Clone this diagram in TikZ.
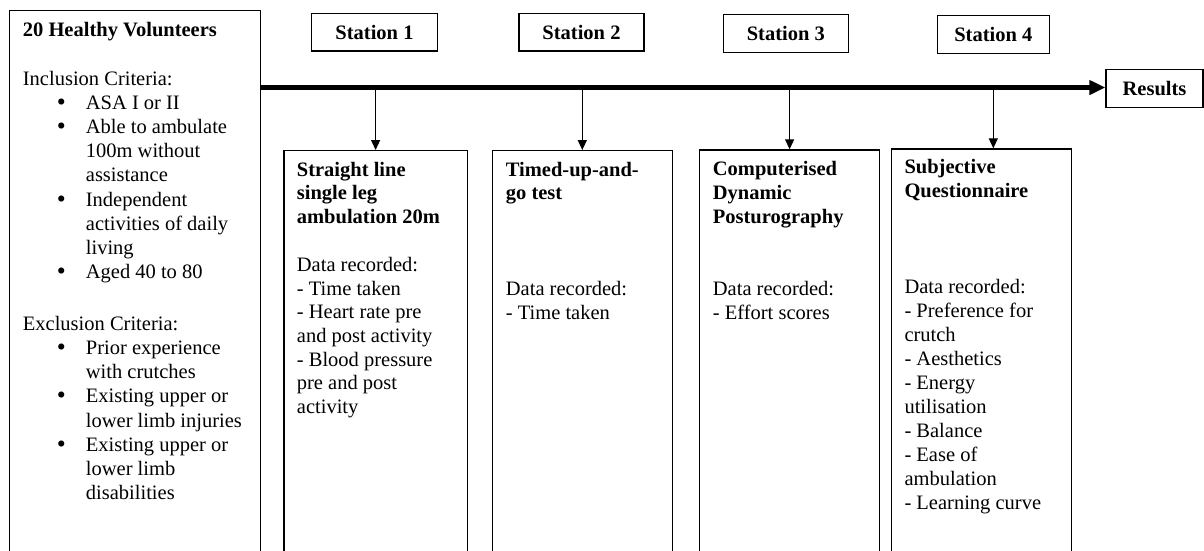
\documentclass[tikz,border=0pt]{standalone}
\usepackage{fontspec}
\setmainfont{Liberation Serif}
\usetikzlibrary{arrows.meta}
\newcommand{\bulitem}{\hspace*{34pt}\makebox[29pt][l]{\raisebox{-1pt}{\scalebox{1.25}{\textbullet}}}}
\newcommand{\bulcont}{\hspace*{63pt}}
\begin{document}
\begin{tikzpicture}[x=1pt,y=-1pt,
  box/.style={draw, line width=1.2pt, inner sep=0pt, anchor=north west, minimum height=420pt},
  stbox/.style={draw, line width=1.2pt, inner sep=0pt, font=\fontsize{20.5}{24}\selectfont\bfseries},
  txt/.style={anchor=base west, inner sep=0pt, font=\fontsize{20.5}{24}\selectfont},
  drop/.style={line width=1.3pt, -{Triangle[width=9pt,length=10pt]}},
  mainarrow/.style={line width=4.5pt, -{Triangle[width=14pt,length=16pt]}},
]
\useasboundingbox (0,0) rectangle (1204,550);
\clip (0,0) rectangle (1204,550);

% left box
\node[box, minimum width=251pt, minimum height=560pt] (vol) at (9,10) {};
\node[txt] (voltext) at (22.7,36) {\parbox[t]{235pt}{\fontsize{20.5}{24.2}\selectfont
\textbf{20 Healthy Volunteers}\\[24.8pt]
Inclusion Criteria:\\
\bulitem ASA I or II\\
\bulitem Able to ambulate\\
\bulcont 100m without\\
\bulcont assistance\\
\bulitem Independent\\
\bulcont activities of daily\\
\bulcont living\\
\bulitem Aged 40 to 80\\[27.5pt]
Exclusion Criteria:\\
\bulitem Prior experience\\
\bulcont with crutches\\
\bulitem Existing upper or\\
\bulcont lower limb injuries\\
\bulitem Existing upper or\\
\bulcont lower limb\\
\bulcont disabilities}};

% station boxes
\node[stbox, minimum width=125.6pt, minimum height=37.7pt] (s1) at (374.5,32.2) {Station 1};
\node[stbox, minimum width=125pt, minimum height=37.7pt] (s2) at (581.5,32.2) {Station 2};
\node[stbox, minimum width=125pt, minimum height=38pt] (s3) at (785.8,33.3) {Station 3};
\node[stbox, minimum width=112pt, minimum height=37.6pt] (s4) at (993.3,34.5) {Station 4};
\node[stbox, minimum width=97pt, minimum height=38pt] (res) at (1154.5,88.3) {Results};

% lower boxes
\node[box, minimum width=183.4pt] (b1) at (283.3,150) {};
\node[box, minimum width=180pt] (b2) at (491.7,150) {};
\node[box, minimum width=180pt] (b3) at (699,149.3) {};
\node[box, minimum width=180pt] (b4) at (891,148.3) {};

% main line
\coordinate (ml) at (260,87.5);
\draw[mainarrow] (ml) -- (res.west |- ml);

% drops
\draw[drop] (b1.north |- ml) -- (b1.north);
\draw[drop] (b2.north |- ml) -- (b2.north);
\draw[drop] (b3.north |- ml) -- (b3.north);
\draw[drop] (s4.south |- ml) -- (s4.south |- b4.north);

% box texts
\node[txt] (b1h) at (296.7,176) {\parbox[t]{175pt}{\fontsize{20.5}{23.6}\selectfont\bfseries
Straight line\\single leg\\ambulation 20m}};
\node[txt] (b1d) at (296.7,271.7) {\parbox[t]{175pt}{\fontsize{20.5}{23.6}\selectfont
Data recorded:\\- Time taken\\- Heart rate pre\\and post activity\\- Blood pressure\\pre and post\\activity}};

\node[txt] (b2h) at (505.7,176) {\parbox[t]{170pt}{\fontsize{20.5}{23.8}\selectfont\bfseries
Timed-up-and-\\go test}};
\node[txt] (b2d) at (505.7,295.7) {\parbox[t]{170pt}{\fontsize{20.5}{23.6}\selectfont
Data recorded:\\- Time taken}};

\node[txt] (b3h) at (712.7,175) {\parbox[t]{170pt}{\fontsize{20.5}{24}\selectfont\bfseries
Computerised\\Dynamic\\Posturography}};
\node[txt] (b3d) at (712.7,295) {\parbox[t]{170pt}{\fontsize{20.5}{24}\selectfont
Data recorded:\\- Effort scores}};

\node[txt] (b4h) at (904.3,173) {\parbox[t]{170pt}{\fontsize{20.5}{24.5}\selectfont\bfseries
Subjective\\Questionnaire}};
\node[txt] (b4d) at (904.3,293) {\parbox[t]{170pt}{\fontsize{20.5}{24}\selectfont
Data recorded:\\- Preference for\\crutch\\- Aesthetics\\- Energy\\utilisation\\- Balance\\- Ease of\\ambulation\\- Learning curve}};
\end{tikzpicture}
\end{document}
